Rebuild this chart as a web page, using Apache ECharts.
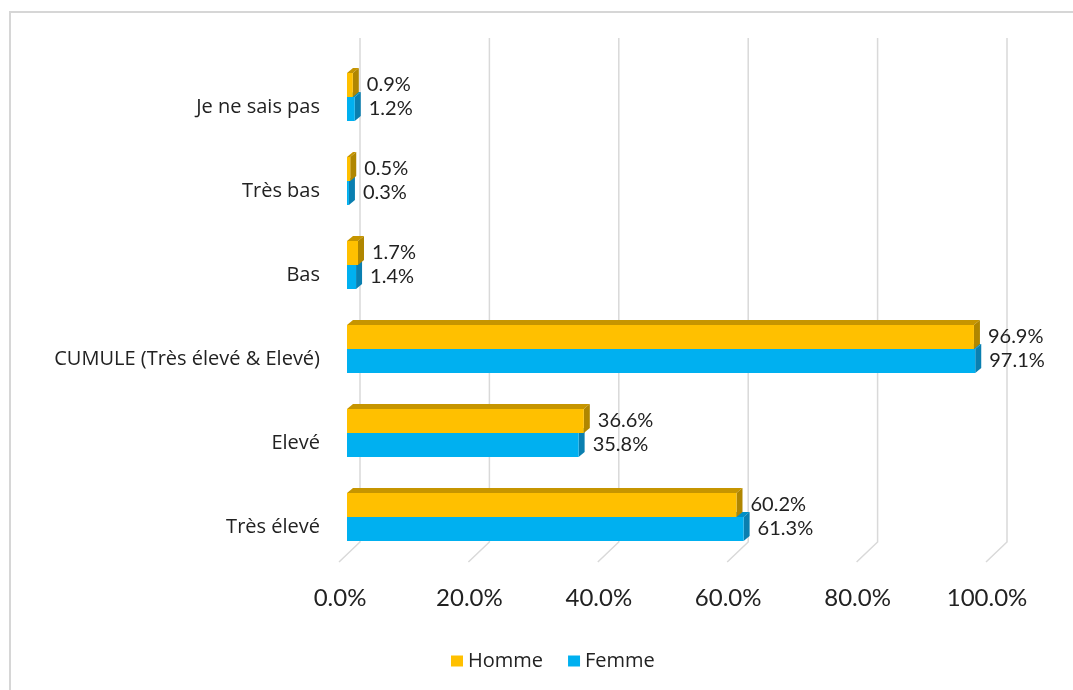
<!DOCTYPE html>
<html>
<head>
<meta charset="utf-8">
<script src="https://cdn.jsdelivr.net/npm/echarts@6/dist/echarts.min.js"></script>
<style>
  html, body { margin: 0; padding: 0; background: #fff; overflow: hidden; }
  #frame { position: absolute; left: 9px; top: 11px; width: 1100px; height: 700px;
           border-left: 2px solid #d6d6d6; border-top: 2px solid #d6d6d6; box-sizing: border-box; }
  #chart { position: absolute; left: 0; top: 0; width: 1073px; height: 690px; }
</style>
</head>
<body>
<div id="frame"></div>
<div id="chart"></div>
<script>
const categories = ['Très élevé', 'Elevé', 'CUMULE (Très élevé & Elevé)', 'Bas', 'Très bas', 'Je ne sais pas'];
const homme = [60.2, 36.6, 96.9, 1.7, 0.5, 0.9];
const femme = [61.3, 35.8, 97.1, 1.4, 0.3, 1.2];
const ticks = [0, 20, 40, 60, 80, 100];

const FONT = 'Lato, "Open Sans", sans-serif';
const FONT2 = '"Open Sans", Lato, sans-serif';
const DX = 6, DY = 5;

function barRenderer(isTop, front, topC, sideC) {
  return function (params, api) {
    const v = api.value(0), c = api.value(1);
    const p0 = api.coord([0, c]);
    const p1 = api.coord([v, c]);
    const band = api.size([0, 1])[1];
    const h = band * 0.286;
    const x0 = p0[0], x1 = p1[0];
    const yTop = isTop ? p0[1] - h : p0[1];
    const yBot = isTop ? p0[1] : p0[1] + h;
    return {
      type: 'group',
      children: [
        { type: 'polygon', shape: { points: [[x0, yTop], [x0 + DX, yTop - DY], [x1 + DX, yTop - DY], [x1, yTop]] },
          style: { fill: topC } },
        { type: 'polygon', shape: { points: [[x1, yTop], [x1 + DX, yTop - DY], [x1 + DX, yBot - DY], [x1, yBot]] },
          style: { fill: sideC } },
        { type: 'rect', shape: { x: x0, y: yTop, width: x1 - x0, height: yBot - yTop },
          style: { fill: front } },
        { type: 'text', x: x1 + 14, y: (yTop + yBot) / 2,
          style: { text: v.toFixed(1) + '%', fill: '#222', font: '20px ' + FONT, align: 'left', verticalAlign: 'middle' } }
      ]
    };
  };
}

const chart = echarts.init(document.getElementById('chart'), null, { renderer: 'canvas' });
chart.setOption({
  animation: false,
  backgroundColor: 'transparent',
  grid: { left: 347, right: 79, top: 55, bottom: 131 },
  xAxis: {
    type: 'value', min: 0, max: 100, interval: 20,
    axisLine: { show: false }, axisTick: { show: false }, splitLine: { show: false },
    axisLabel: { formatter: v => v.toFixed(1) + '%', fontSize: 24, color: '#222', fontFamily: FONT,
                 margin: 27, padding: [0, 14, 0, 0] }
  },
  yAxis: {
    type: 'category', data: categories,
    axisLine: { show: false }, axisTick: { show: false }, splitLine: { show: false },
    axisLabel: { fontSize: 20, color: '#222', fontFamily: FONT2, margin: 27, verticalAlign: 'top' }
  },
  legend: {
    data: ['Homme', 'Femme'], left: 446, top: 646, icon: 'rect', itemWidth: 12, itemHeight: 11, itemGap: 25,
    textStyle: { fontSize: 20, color: '#222', fontFamily: FONT2 }
  },
  series: [
    {
      name: 'grid3d', type: 'custom', silent: true, z: 0,
      data: ticks.map(t => [t, 0]), encode: { x: 0, y: 1 },
      renderItem: function (params, api) {
        const cs = params.coordSys;
        const x = api.coord([api.value(0), 0])[0];
        const bottom = cs.y + cs.height;
        return { type: 'polyline',
          shape: { points: [[x + 13, cs.y - 17], [x + 13, bottom - 17], [x - 8, bottom + 3]] },
          style: { stroke: '#d9d9d9', lineWidth: 1.5, fill: null } };
      }
    },
    {
      name: 'Femme', type: 'custom', z: 2, itemStyle: { color: '#00B0F0' },
      data: femme.map((v, i) => [v, i]), encode: { x: 0, y: 1 },
      renderItem: barRenderer(false, '#00B0F0', '#0090C6', '#0A7FB0')
    },
    {
      name: 'Homme', type: 'custom', z: 3, itemStyle: { color: '#FFC000' },
      data: homme.map((v, i) => [v, i]), encode: { x: 0, y: 1 },
      renderItem: barRenderer(true, '#FFC000', '#C69500', '#B08600')
    }
  ]
});
</script>
</body>
</html>
